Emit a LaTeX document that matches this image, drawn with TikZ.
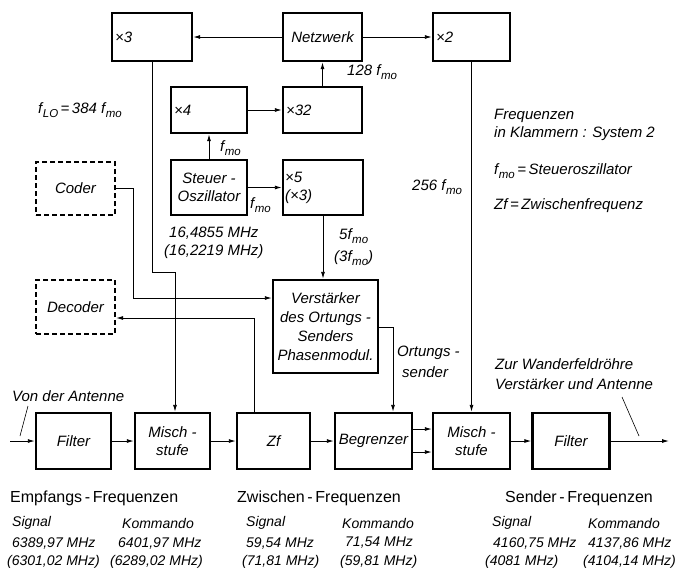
\documentclass[tikz,border=0pt]{standalone}
\usepackage{fontspec}
\setmainfont{Liberation Sans}
\usetikzlibrary{arrows.meta}
\newcommand\lsub[1]{\raisebox{-0.5ex}{\fontsize{11.5}{11.5}\selectfont #1}}
\newcommand\fmo{f\kern0.5pt\lsub{mo}}
\begin{document}
\begin{tikzpicture}[x=1pt,y=-1pt,
  box/.style={draw, line width=2.4pt, inner sep=1pt, align=center,
    font=\fontsize{15}{18}\selectfont\itshape},
  dbox/.style={box, dashed, dash pattern=on 5pt off 3pt, line width=2.2pt},
  txt/.style={inner sep=0pt, anchor=west, font=\fontsize{15}{18}\selectfont\itshape},
  val/.style={inner sep=0pt, anchor=west, font=\fontsize{14}{18}\selectfont\itshape},
  head/.style={inner sep=0pt, anchor=west, font=\fontsize{16}{18}\selectfont},
  ln/.style={line width=0.9pt},
  arr/.style={ln, -{Latex[length=7pt,width=4pt]}}]
\useasboundingbox (0,0) rectangle (676,576);

% boxes
\node[box, minimum width=80pt, minimum height=48pt] (x3) at (152,37) {};
\node[box, minimum width=79pt, minimum height=48pt] (netz) at (322.5,37) {Netzwerk};
\node[box, minimum width=77pt, minimum height=48pt] (x2) at (471.5,37) {};
\node[box, minimum width=76pt, minimum height=46pt] (x4) at (209,110) {};
\node[box, minimum width=79pt, minimum height=46pt] (x32) at (322.5,110) {};
\node[box, minimum width=76pt, minimum height=55pt] (steuer) at (209,187.5) {Steuer -\\Oszillator};
\node[box, minimum width=80pt, minimum height=55pt] (x5) at (323,187.5) {};
\node[dbox, minimum width=79pt, minimum height=53pt] (coder) at (75.5,188.5) {Coder};
\node[dbox, minimum width=79pt, minimum height=54pt] (decoder) at (75.5,307) {Decoder};
\node[box, minimum width=105pt, minimum height=93pt, font=\fontsize{15}{19}\selectfont\itshape] (verst) at (325.5,326.5) {Verstärker\\des Ortungs -\\Senders\\Phasenmodul.};
\node[box, minimum width=75pt, minimum height=56pt] (filter1) at (73.5,441) {Filter};
\node[box, minimum width=75pt, minimum height=56pt] (misch1) at (172.5,441) {Misch -\\stufe};
\node[box, minimum width=73pt, minimum height=56pt] (zf) at (273.5,441) {Zf};
\node[box, minimum width=77pt, minimum height=56pt] (begr) at (373.5,441) {Begrenzer};
\node[box, minimum width=77pt, minimum height=56pt] (misch2) at (471.5,441) {Misch -\\stufe};
\node[box, minimum width=77pt, minimum height=56pt] (filter2) at (571,441) {Filter};

% labels inside multiplier boxes
\node[txt] (tx3) at ([xshift=4pt]x3.west) {×3};
\node[txt] (tx2) at ([xshift=4pt]x2.west) {×2};
\node[txt] (tx4) at ([xshift=4pt]x4.west) {×4};
\node[txt] (tx32) at ([xshift=4pt]x32.west) {×32};
\node[txt, align=left] (tx5) at ([xshift=3pt]x5.west) {×5\\(×3)};

% connectors top part
\draw[arr] (netz.west) -- (x3.east);
\draw[arr] (netz.east) -- (x2.west);
\draw[arr] (x32.north) -- (netz.south);
\draw[arr] (x4.east) -- (x32.west);
\draw[arr] (steuer.north) -- (x4.south);
\draw[arr] (steuer.east) -- (x5.west);
\draw[arr] (x5.south) -- (x5.south |- verst.north);
\draw[arr] (x2.south) -- (misch2.north);

\coordinate (k1) at (175,272);
\draw[arr] (x3.south) |- (k1) -- (k1 |- misch1.north);
\coordinate (c2) at (133,298);
\draw[arr] (coder.east) -| (c2) -- (c2 -| verst.west);
\coordinate (d2) at (254,318);
\draw[arr] (d2 |- zf.north) -- (d2) -- (d2 -| decoder.east);
\coordinate (o2) at (393,327);
\draw[arr] (o2 -| verst.east) -- (o2) -- (o2 |- begr.north);

% bottom chain
\coordinate (in) at (10,441);
\coordinate (out) at (669,441);
\draw[arr] (in) -- (filter1.west);
\draw[arr] (filter1.east) -- (misch1.west);
\draw[arr] (misch1.east) -- (zf.west);
\draw[arr] (zf.east) -- (begr.west);
\draw[arr] ([yshift=-11pt]begr.east) -- ([yshift=-11pt]misch2.west);
\draw[arr] ([yshift=12pt]begr.east) -- ([yshift=12pt]misch2.west);
\draw[arr] (misch2.east) -- (filter2.west);
\draw[arr] (filter2.east) -- (out);

% leader lines
\coordinate (v1) at (28,406);
\coordinate (v2) at (20,436);
\draw[line width=0.6pt] (v1) -- (v2);
\coordinate (w1) at (622,397);
\coordinate (w2) at (639,436);
\draw[line width=0.6pt] (w1) -- (w2);

% free labels
\node[txt] (flo) at (38,110) {f\kern0.5pt\lsub{LO}\,=\,384 \fmo};
\node[txt] (l128) at (347,72) {128 \fmo};
\node[txt] (lf1) at (220,148) {\fmo};
\node[txt] (lf2) at (250,205) {\fmo};
\node[txt] (l5) at (339,236) {5\fmo};
\node[txt] (l3) at (334,258) {(3\fmo)};
\node[txt] (mhz1) at (169,233) {16,4855 MHz};
\node[txt] (mhz2) at (164,252) {(16,2219 MHz)};
\node[txt] (l256) at (412,187) {256 \fmo};
\node[txt] (n1) at (494,116) {Frequenzen};
\node[txt] (n2) at (494,134) {in Klammern : System 2};
\node[txt] (n3) at (494,171) {\fmo\,=\,Steueroszillator};
\node[txt] (n4) at (494,206) {Zf\,=\,Zwischenfrequenz};
\node[txt] (ort1) at (397,353) {Ortungs -};
\node[txt] (ort2) at (402,372) {sender};
\node[txt] (von) at (12,396) {Von der Antenne};
\node[txt] (zur1) at (495,364) {Zur Wanderfeldröhre};
\node[txt] (zur2) at (495,384) {Verstärker und Antenne};

% bottom tables
\node[head] (h1) at (10,498) {Empfangs\,-\,Frequenzen};
\node[head] (h2) at (237,498) {Zwischen\,-\,Frequenzen};
\node[head] (h3) at (505,498) {Sender\,-\,Frequenzen};

\node[val] (e1) at (12,523) {Signal};
\node[val] (e2) at (122,523) {Kommando};
\node[val] (e3) at (12,543) {6389,97 MHz};
\node[val] (e4) at (118,543) {6401,97 MHz};
\node[val] (e5) at (7,562) {(6301,02 MHz)};
\node[val] (e6) at (110,562) {(6289,02 MHz)};

\node[val] (z1) at (246,523) {Signal};
\node[val] (z2) at (342,523) {Kommando};
\node[val] (z3) at (246,543) {59,54 MHz};
\node[val] (z4) at (345,543) {71,54 MHz};
\node[val] (z5) at (242,562) {(71,81 MHz)};
\node[val] (z6) at (340,562) {(59,81 MHz)};

\node[val] (s1) at (492,523) {Signal};
\node[val] (s2) at (588,523) {Kommando};
\node[val] (s3) at (493,543) {4160,75 MHz};
\node[val] (s4) at (588,543) {4137,86 MHz};
\node[val] (s5) at (485,562) {(4081 MHz)};
\node[val] (s6) at (583,562) {(4104,14 MHz)};
\end{tikzpicture}
\end{document}
